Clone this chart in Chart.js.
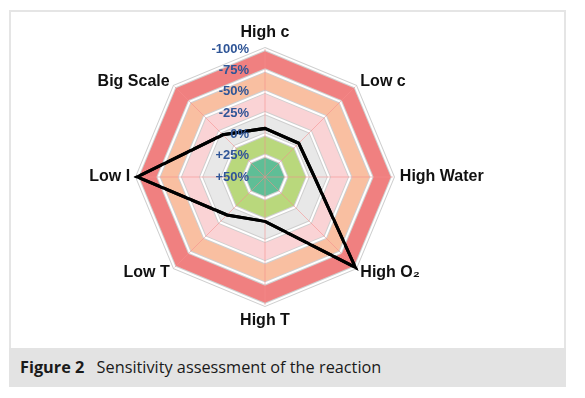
<!DOCTYPE html>
<html lang="en">
<head>
    <meta charset="UTF-8">
    <title>Figure 2</title>
    <script src="https://cdn.jsdelivr.net/npm/chart.js@4.4.1/dist/chart.umd.min.js"></script>
    <style>
        body {
            margin: 0;
            background: #fff;
            font-family: "Open Sans", sans-serif;
        }
        .frame {
            position: absolute;
            left: 9px;
            top: 10px;
            width: 553px;
            height: 336px;
            border: 2px solid #e5e5e5;
            border-bottom: none;
        }
        .chart-box {
            position: absolute;
            left: 0;
            top: 0;
            width: 553px;
            height: 336px;
        }
        .caption {
            position: absolute;
            left: 9px;
            top: 348px;
            width: 557px;
            height: 39px;
            background: #e3e3e3;
            color: #1a1a1a;
            font-size: 16.3px;
            line-height: 39px;
            padding-left: 11px;
            box-sizing: border-box;
        }
        .caption b { margin-right: 8px; }
    </style>
</head>
<body>
    <div class="frame">
        <div class="chart-box"><canvas id="sensChart"></canvas></div>
    </div>
    <div class="caption"><b>Figure 2</b> Sensitivity assessment of the reaction</div>

    <script>
        // axes, clockwise from the top
        const labels = ['High c', 'Low c', 'High Water', 'High O\u2082', 'High T', 'Low T', 'Low I', 'Big Scale'];
        const sensitivity = [-7, -6, -8, -100, -2, -13, -100, -20];

        // coloured rings, inner to outer: outer edge value of each ring
        const bandEdges = [25, 0, -25, -50, -75, -100];
        const bandColors = ['#5fbe96', '#b9d87c', '#e8e8e8', '#fad3d5', '#f9bfa1', '#f08080'];

        const scaleMin = -100, scaleMax = 50, scaleStep = 25;

        function tickText(v) {
            return (v > 0 ? '+' : '') + v + '%';
        }

        const datasets = [{
            label: 'Sensitivity',
            data: sensitivity,
            borderColor: '#000',
            borderWidth: 3,
            borderJoinStyle: 'miter',
            pointRadius: 0,
            fill: false
        }];
        bandEdges.forEach((edge, i) => {
            datasets.push({
                label: 'band' + i,
                data: labels.map(() => edge),
                backgroundColor: bandColors[i],
                borderColor: '#cfcfcf',
                borderWidth: 4,
                pointRadius: 0,
                fill: 'start'
            });
        });

        // black line back on top of the grid, then the blue tick labels
        const overlay = {
            id: 'overlay',
            afterDraw(chart) {
                chart.getDatasetMeta(0).controller.draw();
                const s = chart.scales.r;
                const ctx = chart.ctx;
                ctx.save();
                ctx.font = 'bold 13px "Liberation Sans", Arial, sans-serif';
                ctx.fillStyle = '#2f5597';
                ctx.textAlign = 'right';
                ctx.textBaseline = 'middle';
                s.ticks.forEach(t => {
                    const y = s.yCenter - s.getDistanceFromCenterForValue(t.value);
                    ctx.fillText(t.label, s.xCenter - 16, y);
                });
                ctx.restore();
            }
        };

        new Chart(document.getElementById('sensChart'), {
            type: 'radar',
            data: { labels: labels, datasets: datasets },
            plugins: [overlay],
            options: {
                responsive: true,
                maintainAspectRatio: false,
                animation: false,
                layout: { padding: { left: 12, right: 57, top: 22, bottom: 26 } },
                plugins: {
                    legend: { display: false },
                    tooltip: { enabled: false },
                    filler: { drawTime: 'beforeDatasetDraw' }
                },
                elements: { line: { tension: 0 } },
                scales: {
                    r: {
                        reverse: true,
                        min: scaleMin,
                        max: scaleMax,
                        ticks: {
                            display: false,
                            stepSize: scaleStep,
                            callback: v => tickText(v),
                            z: 1
                        },
                        grid: { color: '#ffffff', lineWidth: 2, z: 1 },
                        angleLines: { color: 'rgba(245,140,140,0.55)', lineWidth: 1 },
                        pointLabels: {
                            color: '#111',
                            font: { family: '"Liberation Sans", Arial, sans-serif', size: 16, weight: 'bold', lineHeight: 0.01 },
                            padding: ctx => (ctx.index % 4 === 0 ? 16 : 7)
                        }
                    }
                }
            }
        });
    </script>
</body>
</html>
